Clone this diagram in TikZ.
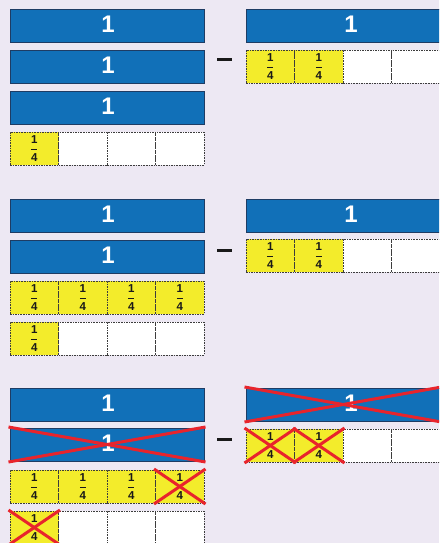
\documentclass[tikz,border=0pt]{standalone}
\usepackage{fontspec}
\setmainfont{Liberation Sans}
\definecolor{bgc}{RGB}{237,232,243}
\definecolor{barblue}{RGB}{17,112,184}
\definecolor{bardark}{RGB}{30,60,100}
\definecolor{qyellow}{RGB}{243,236,43}
\definecolor{cellline}{RGB}{60,60,60}
\definecolor{crossred}{RGB}{232,36,44}
\definecolor{ink}{RGB}{25,25,25}
\tikzset{
  bar/.style={draw=bardark, line width=0.8pt, fill=barblue, minimum width=194pt, minimum height=33pt, inner sep=0pt, outer sep=0pt},
  qcell/.style={draw=cellline, dash pattern=on 1.6pt off 1pt, line width=0.7pt, minimum width=48.5pt, minimum height=33pt, inner sep=0pt, outer sep=0pt},
  yel/.style={qcell, fill=qyellow},
  wht/.style={qcell, fill=white},
  onelabel/.style={text=white, font=\fontsize{24}{24}\selectfont\bfseries, inner sep=0pt},
  fraclabel/.style={text=ink, font=\fontsize{11.5}{11.5}\selectfont\bfseries, inner sep=0pt},
  fracbar/.style={draw=ink, line width=0.8pt},
  cross/.style={draw=crossred, line width=3pt},
  minusline/.style={draw=ink, line width=3pt}
}
\newcommand\fracin[1]{%
  \node[fraclabel] at ([yshift=9pt]#1.center) {1};
  \draw[fracbar] ([xshift=-3pt,yshift=-0.5pt]#1.center) -- ([xshift=3pt,yshift=-0.5pt]#1.center);
  \node[fraclabel] at ([yshift=-9.5pt]#1.center) {4};}
\newcommand\crossout[1]{%
  \draw[cross] ([shift={(-1.5pt,1pt)}]#1.north west) -- ([shift={(1.5pt,-1pt)}]#1.south east);
  \draw[cross] ([shift={(-1.5pt,-1pt)}]#1.south west) -- ([shift={(1.5pt,1pt)}]#1.north east);}
% bar: name, left x, top y, text x
\newcommand\onebar[4]{%
  \node[bar] (#1) at (#2+97,#3+16.5) {};
  \node[onelabel] (#1t) at (#4,#3+15) {1};}
% quarter row: prefix, left x, top y, list of styles
\newcommand\qrow[4]{%
  \foreach \s [count=\i from 0] in {#4} {
    \node[\s] (#1\i) at (#2+24.25+48.5*\i,#3+16.5) {};
  }}
\begin{document}
\begin{tikzpicture}[x=1pt,y=-1pt]
\useasboundingbox (0,0) rectangle (439,543);
\clip (0,0) rectangle (439,543);
\fill[bgc] (0,0) rectangle (439,543);
% ---------- section 1
\onebar{aL1}{10}{9}{108}
\onebar{aL2}{10}{50}{108}
\onebar{aL3}{10}{91}{108}
\qrow{aLq}{10}{132}{yel,wht,wht,wht}
\fracin{aLq0}
\onebar{aR1}{246}{9}{351}
\qrow{aRq}{246}{50}{yel,yel,wht,wht}
\fracin{aRq0}\fracin{aRq1}
\coordinate (am1) at (217,60);
\coordinate (am2) at (232,60);
\draw[minusline] (am1) -- (am2);
% ---------- section 2
\onebar{bL1}{10}{199}{108}
\onebar{bL2}{10}{240}{108}
\qrow{bLq}{10}{281}{yel,yel,yel,yel}
\fracin{bLq0}\fracin{bLq1}\fracin{bLq2}\fracin{bLq3}
\qrow{bLr}{10}{322}{yel,wht,wht,wht}
\fracin{bLr0}
\onebar{bR1}{246}{199}{351}
\qrow{bRq}{246}{239}{yel,yel,wht,wht}
\fracin{bRq0}\fracin{bRq1}
\coordinate (bm1) at (217,250);
\coordinate (bm2) at (232,250);
\draw[minusline] (bm1) -- (bm2);
% ---------- section 3
\onebar{cL1}{10}{388}{108}
\onebar{cL2}{10}{428}{108}
\crossout{cL2}
\qrow{cLq}{10}{470}{yel,yel,yel,yel}
\fracin{cLq0}\fracin{cLq1}\fracin{cLq2}\fracin{cLq3}
\crossout{cLq3}
\qrow{cLr}{10}{511}{yel,wht,wht,wht}
\fracin{cLr0}
\crossout{cLr0}
\onebar{cR1}{246}{388}{351}
\crossout{cR1}
\qrow{cRq}{246}{429}{yel,yel,wht,wht}
\fracin{cRq0}\fracin{cRq1}
\crossout{cRq0}\crossout{cRq1}
\coordinate (cm1) at (217,439);
\coordinate (cm2) at (232,439);
\draw[minusline] (cm1) -- (cm2);
\end{tikzpicture}
\end{document}
